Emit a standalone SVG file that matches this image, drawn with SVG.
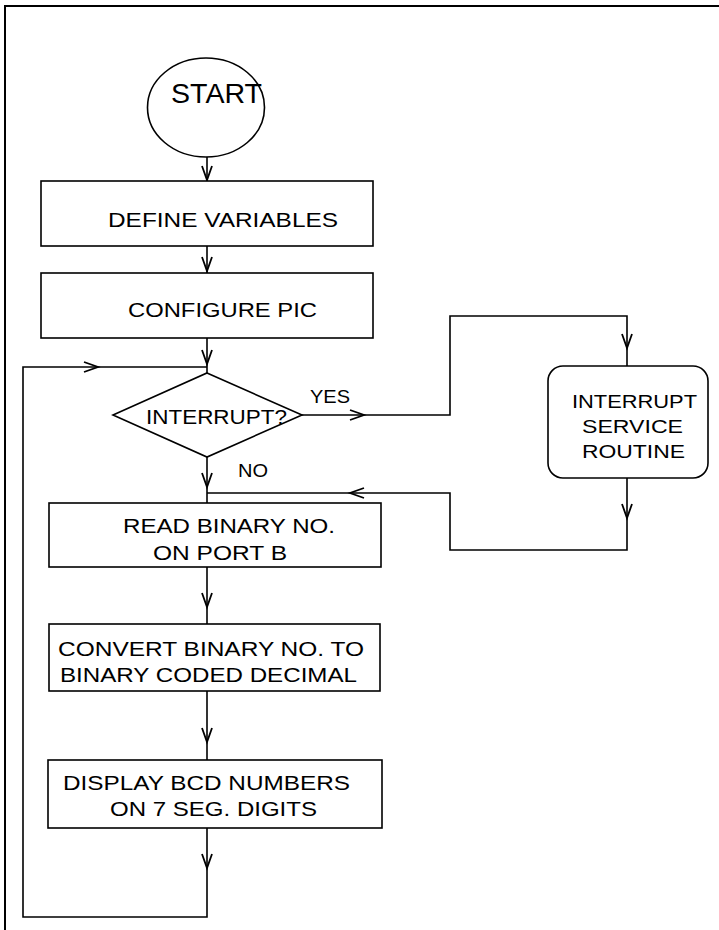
<svg xmlns="http://www.w3.org/2000/svg" xmlns:xlink="http://www.w3.org/1999/xlink" width="719" height="930" viewBox="0 0 719 930">
<style>
.shape{fill:#fff;stroke:#000;stroke-width:1.6}
.line{fill:none;stroke:#000;stroke-width:1.6}
.ah{fill:none;stroke:#000;stroke-width:1.8;stroke-linejoin:miter}
text{font-family:"Liberation Sans",Arial,sans-serif;fill:#000;text-anchor:start}
.t{font-size:21px}
.s{font-size:18px}
</style>
<defs>
<path id="ad" class="ah" d="M-5,-14 L0,0 L5,-14"/>
</defs>
<rect x="5" y="6" width="730" height="940" fill="none" stroke="#000" stroke-width="2"/>
<g id="connectors">
<path class="line" d="M207,157 V181"/>
<path class="line" d="M207,246 V273"/>
<path class="line" d="M207,338 V373"/>
<path class="line" d="M207,457 V503"/>
<path class="line" d="M207,567 V624"/>
<path class="line" d="M207,691 V760"/>
<path class="line" d="M207,828 V917 H23 V367 H207" stroke-width="2"/>
<path class="line" d="M302,415 H450 V316 H627 V366"/>
<path class="line" d="M627,478 V550 H450 V493 H207"/>
<use xlink:href="#ad" transform="translate(207,180)"/>
<use xlink:href="#ad" transform="translate(207,271)"/>
<use xlink:href="#ad" transform="translate(207,364)"/>
<use xlink:href="#ad" transform="translate(207,487)"/>
<use xlink:href="#ad" transform="translate(207,607)"/>
<use xlink:href="#ad" transform="translate(207,742)"/>
<use xlink:href="#ad" transform="translate(207,868)"/>
<use xlink:href="#ad" transform="translate(98,367) rotate(-90)"/>
<use xlink:href="#ad" transform="translate(364,415) rotate(-90)"/>
<use xlink:href="#ad" transform="translate(627,348)"/>
<use xlink:href="#ad" transform="translate(627,518)"/>
<use xlink:href="#ad" transform="translate(350,493) rotate(90)"/>
<text class="s" x="310" y="403" textLength="40" lengthAdjust="spacingAndGlyphs">YES</text>
<text class="s" x="238" y="477" textLength="30" lengthAdjust="spacingAndGlyphs">NO</text>
</g>
<g id="start">
<ellipse class="shape" cx="206" cy="107.5" rx="58.5" ry="49.5"/>
<text x="171" y="103" font-size="27" textLength="91" lengthAdjust="spacingAndGlyphs">START</text>
</g>
<g id="define">
<rect class="shape" x="41" y="181" width="332" height="65"/>
<text class="t" x="108" y="227" textLength="230" lengthAdjust="spacingAndGlyphs">DEFINE VARIABLES</text>
</g>
<g id="configure">
<rect class="shape" x="41" y="273" width="332" height="65"/>
<text class="t" x="128" y="317" textLength="189" lengthAdjust="spacingAndGlyphs">CONFIGURE PIC</text>
</g>
<g id="interrupt">
<polygon class="shape" points="207,373 302,415 207,457 113,415"/>
<text class="t" x="146" y="424" textLength="141" lengthAdjust="spacingAndGlyphs">INTERRUPT?</text>
</g>
<g id="isr">
<rect class="shape" x="548" y="366" width="160" height="112" rx="15" ry="15"/>
<text class="s" x="572" y="408" textLength="125" lengthAdjust="spacingAndGlyphs">INTERRUPT</text>
<text class="s" x="582" y="433" textLength="101" lengthAdjust="spacingAndGlyphs">SERVICE</text>
<text class="s" x="582" y="458" textLength="103" lengthAdjust="spacingAndGlyphs">ROUTINE</text>
</g>
<g id="read">
<rect class="shape" x="49" y="503" width="332" height="64"/>
<text class="t" x="123" y="533" textLength="212" lengthAdjust="spacingAndGlyphs">READ BINARY NO.</text>
<text class="t" x="153" y="560" textLength="134" lengthAdjust="spacingAndGlyphs">ON PORT B</text>
</g>
<g id="convert">
<rect class="shape" x="49" y="624" width="331" height="67"/>
<text class="t" x="58" y="656" textLength="306" lengthAdjust="spacingAndGlyphs">CONVERT BINARY NO. TO</text>
<text class="t" x="60" y="682" textLength="297" lengthAdjust="spacingAndGlyphs">BINARY CODED DECIMAL</text>
</g>
<g id="display">
<rect class="shape" x="48" y="760" width="334" height="68"/>
<text class="t" x="63" y="790" textLength="287" lengthAdjust="spacingAndGlyphs">DISPLAY BCD NUMBERS</text>
<text class="t" x="110" y="816" textLength="207" lengthAdjust="spacingAndGlyphs">ON 7 SEG. DIGITS</text>
</g>
</svg>
